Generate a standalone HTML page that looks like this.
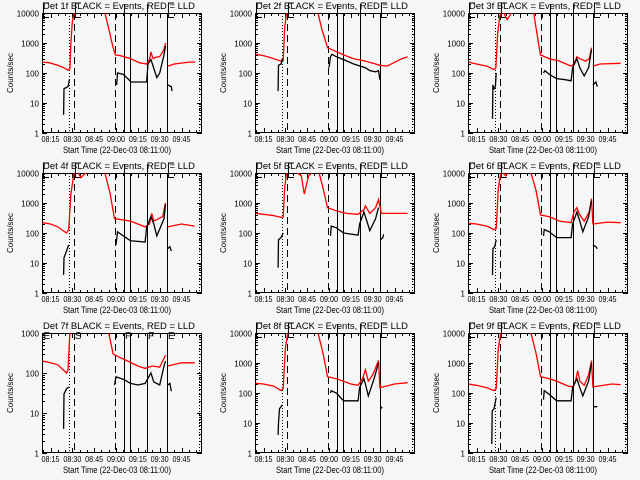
<!DOCTYPE html>
<html><head><meta charset="utf-8"><style>
html,body{margin:0;padding:0;background:#f6f6f6;}
svg{display:block;font-family:"Liberation Sans",sans-serif;}
</style></head><body>
<svg id="chart" width="640" height="480" viewBox="0 0 640 480" xmlns="http://www.w3.org/2000/svg">
<rect x="0" y="0" width="640" height="480" fill="#f6f6f6"/>
</svg>
<script>
// time in minutes since 08:00, values in counts/sec
const detNames = ["1f","2f","3f","4f","5f","6f","7f","8f","9f"];
const xTickMin = [15,30,45,60,75,90,105];
const xTickLabels = ["08:15","08:30","08:45","09:00","09:15","09:30","09:45"];
const dottedMin = [28.05,117];
const dashedMin = [31.1,59.3];
const solidMin = [65.5,69.6,81.3,95];

const p1RedT=[9.5,14,20,24,27,28.3,29,30,31,33,40,52,55,58,59.5,63,70,76,81,83,84,85.5,87,90,93,94,94.5,95.5,100,110,114.5];
const p1RedV=[230,220,180,150,125,140,1000,5000,9000,12000,12000,12000,3000,700,400,380,300,220,200,280,500,300,330,350,600,1000,null,170,200,230,230];
const p1BlkT=[24,24.3,27,28,28.5,60.5,61,65,69.6,70,81,82,84,85,88,90,93,94,94.5,95.5,98,98.5];
const p1BlkV=[4,30,35,60,null,40,100,90,55,50,50,200,280,200,70,100,400,800,null,40,35,25];

const p2RedT=[9.5,15,20,27,28.5,29.5,31,40,52,55,58,59,62,70,77,85,92,95,100,110,114];
const p2RedV=[420,380,320,250,260,3000,12000,12000,12000,3000,1000,700,600,400,300,250,200,180,170,300,350];
const p2BlkT=[25,25.3,27,28,28.5,60,61,62,65,70,77,85,88,92,94,95];
const p2BlkV=[25,180,200,300,null,150,350,420,350,280,200,150,120,110,120,60];

const p3RedT=[9.5,15,22,27,28.3,29.5,31,33,36,39,45,54,57,59,65,72,80,82,84,86,90,92.5,94,94.5,95,100,114];
const p3RedV=[230,200,170,130,150,2000,8000,12000,6000,10000,12000,12000,1500,400,300,250,170,200,350,300,250,300,700,null,170,200,210];
const p3BlkT=[26,26.3,27,28,28.5,29,61,62,65,70,76,80,81,84,86,89,92,94,94.5,95,97,98];
const p3BlkV=[3,40,30,35,100,null,100,120,90,65,60,55,150,300,150,80,150,600,null,40,50,35];

const p4RedT=[9.5,15,20,26,27.5,29,31,33,36,39,45,52,56,59,70,80,83,84.5,86,92,94,94.5,95.5,105,114];
const p4RedV=[220,200,160,100,130,2000,9000,12000,7000,10000,12000,12000,2000,300,250,160,200,450,250,350,1000,null,160,200,170];
const p4BlkT=[24,24.3,26,27.5,28,60,61,65,70,80,81,84,86,88,93,94,94.5,95.5,97,98];
const p4BlkV=[4,15,25,40,null,40,110,80,55,50,150,350,200,80,300,900,null,30,35,25];

const p5RedT=[9.5,15,22,27,28.5,29.5,31,37,41,43,46,49,53,56,59,65,72,80,84,85,88,92,94,96,105,114];
const p5RedV=[450,420,380,330,340,3000,12000,11000,8000,2000,8000,11000,11000,3000,700,550,450,420,600,800,450,700,1300,450,450,450];
const p5BlkT=[25,25.3,27,28.5,29,61,61.5,65,70,80,81,84,85.5,88,92,94,94.5,95.5,97,97.5];
const p5BlkV=[7,60,70,100,null,80,170,150,100,85,200,500,300,120,300,700,null,60,70,90];

const p6RedT=[9.5,15,22,27,28.5,30,32,35,38,45,52,56,59,65,72,80,82,84,86,89,92.5,94,95,105,114];
const p6RedV=[210,200,170,130,140,3000,12000,8000,12000,12000,12000,2500,400,350,250,220,500,700,400,250,500,1400,200,230,220];
const p6BlkT=[26,26.3,27.5,28.5,29,61,61.5,65,70,80,81,84,86,88,92,94,94.5,95,97,98];
const p6BlkV=[4,30,35,60,null,80,130,110,70,70,200,500,250,110,350,1200,null,40,35,30];

const p7RedT=[9.5,15,20,26,27,28.5,29,53,54,58,62,68,75,80,85,90,94,94.5,95.5,105,114];
const p7RedV=[200,180,160,100,120,1500,null,null,1500,300,250,200,150,130,150,140,280,null,150,180,180];
const p7BlkT=[24,24.3,26,27.5,28,59,60,65,70,75,80,84,86,90,93,94,94.5,95.5,97,98];
const p7BlkV=[4,30,40,45,null,50,80,70,55,50,55,100,60,50,150,200,null,50,55,35];

const p8RedT=[9.5,15,22,27,28.5,30,32,40,52,56,59,65,75,80,83,85,87,90,94,95,105,114];
const p8RedV=[210,200,170,120,140,3000,12000,12000,12000,2000,350,300,200,180,300,600,250,400,1200,150,200,220];
const p8BlkT=[25,25.3,26,28,28.5,61,61.5,65,70,80,81,84,85,87,91,94,94.5,95.5,96.5];
const p8BlkV=[4,10,30,40,null,100,120,100,55,55,150,300,200,80,300,1000,null,30,35];

const p9RedT=[9.5,15,22,27,28.5,30,32,40,52,56,59,65,70,78,81,83,84.5,86,89,92,94,95,108,114];
const p9RedV=[200,180,150,120,140,3000,12000,12000,12000,2000,350,300,250,170,160,250,550,250,180,400,1200,160,200,190];
const p9BlkT=[25.5,25.8,27,28.5,29,61,61.5,65,70,80,81,84,86,88,92,94,94.5,95.5,98];
const p9BlkV=[2,25,30,70,null,60,120,90,55,55,150,300,150,80,250,1000,null,35,35];

const redT=[p1RedT,p2RedT,p3RedT,p4RedT,p5RedT,p6RedT,p7RedT,p8RedT,p9RedT];
const redV=[p1RedV,p2RedV,p3RedV,p4RedV,p5RedV,p6RedV,p7RedV,p8RedV,p9RedV];
const blkT=[p1BlkT,p2BlkT,p3BlkT,p4BlkT,p5BlkT,p6BlkT,p7BlkT,p8BlkT,p9BlkT];
const blkV=[p1BlkV,p2BlkV,p3BlkV,p4BlkV,p5BlkV,p6BlkV,p7BlkV,p8BlkV,p9BlkV];
const decadesPerPanel=[4,4,4,4,4,4,3,4,4];

const NS="http://www.w3.org/2000/svg";
const svg=document.getElementById('chart');
const L=42,R=202,T=13,B=133;
function xs(m){return 50.5+(m-15)*1.4556;}
function mk(tag,attrs,parent){const e=document.createElementNS(NS,tag);for(const k in attrs)e.setAttribute(k,attrs[k]);parent.appendChild(e);return e;}

for(let p=0;p<9;p++){
  const ox=(p%3)*213, oy=Math.floor(p/3)*160;
  const dec=decadesPerPanel[p];
  const ys=v=>B-Math.log10(v)*(120/dec);
  const g=mk('g',{transform:`translate(${ox},${oy})`},svg);
  
  
  const cp=mk('clipPath',{id:'cp'+p},g);
  mk('rect',{x:L,y:T,width:R-L,height:B-T},cp);
  // title
  const tt=mk('text',{x:119,y:9,'font-size':'9.5','text-anchor':'middle',textLength:152,lengthAdjust:'spacingAndGlyphs',fill:'#000'},g);
  tt.textContent='Det '+detNames[p]+' BLACK = Events, RED = LLD';
  
  
  // y axis title
  const yt=mk('text',{transform:'translate(13,73) rotate(-90)','font-size':'8','text-anchor':'middle',textLength:40,lengthAdjust:'spacingAndGlyphs'},g);
  yt.textContent='Counts/sec';
  
  
  // x title
  const xt=mk('text',{x:117,y:153,'font-size':'9','text-anchor':'middle',textLength:108,lengthAdjust:'spacingAndGlyphs'},g);
  xt.textContent='Start Time (22-Dec-03 08:11:00)';
  
  
  // frame
  const fr=mk('rect',{x:L+0.5,y:T+0.5,width:R-L-1,height:B-T-1,fill:'none',stroke:'#000','stroke-width':1},g);
  
  
  // y ticks
  for(let d=0;d<=dec;d++){
    const y=Math.round(ys(Math.pow(10,d)))+0.5;
    mk('line',{x1:L,x2:L+5,y1:y,y2:y,stroke:'#000'},g);
    mk('line',{x1:R-5,x2:R,y1:y,y2:y,stroke:'#000'},g);
    const lb=mk('text',{x:39,y:y+3,'font-size':'8','text-anchor':'end'},g);
    lb.textContent=String(Math.pow(10,d));
    
    
    if(d<dec){for(let k=2;k<10;k++){const yy=Math.round(ys(k*Math.pow(10,d)))+0.5;
      mk('line',{x1:L,x2:L+3,y1:yy,y2:yy,stroke:'#000'},g);
      mk('line',{x1:R-3,x2:R,y1:yy,y2:yy,stroke:'#000'},g);}}
  }
  // x ticks
  for(let m=10;m<=115;m+=5){
    const x=Math.round(xs(m))+0.5, major=(m%15===0);
    const len=major?5:3;
    mk('line',{x1:x,x2:x,y1:B-len,y2:B,stroke:'#000'},g);
    mk('line',{x1:x,x2:x,y1:T,y2:T+len,stroke:'#000'},g);
  }
  xTickMin.forEach((m,i)=>{
    const lb=mk('text',{x:xs(m),y:142,'font-size':'8','text-anchor':'middle',textLength:18,lengthAdjust:'spacingAndGlyphs'},g);
    lb.textContent=xTickLabels[i];
    
    
  });
  // event lines
  dottedMin.forEach(m=>{const l=mk('line',{x1:Math.round(xs(m))+0.5,x2:Math.round(xs(m))+0.5,y1:T,y2:B,stroke:'#000','stroke-dasharray':'1,2'},g);
    
    });
  dashedMin.forEach(m=>{const l=mk('line',{x1:Math.round(xs(m))+0.5,x2:Math.round(xs(m))+0.5,y1:T,y2:B,stroke:'#000','stroke-dasharray':'7,4'},g);
    
    });
  solidMin.forEach(m=>{const l=mk('line',{x1:Math.round(xs(m))+0.5,x2:Math.round(xs(m))+0.5,y1:T,y2:B,stroke:'#000'},g);
    
    });
  // top markers
  if(p===6){
    const letters=['E','S','F','F','E'], lm=[9.5,31.1,65.5,81.3,95];
    letters.forEach((c,i)=>{const t=mk('text',{x:xs(lm[i])+1,y:19,'font-size':'10'},g);
      t.textContent=c;
      
      });
  } else {
    [[L+1,L+7],[xs(31.1)+1,xs(31.1)+7],[xs(95)+1,xs(95)+7]].forEach(([a,b])=>{
      mk('path',{d:`M${a+0.5},${T}V${T+5}M${a},${T+4.5}H${b}`,stroke:'#000',fill:'none'},g);
      mk('path',{d:`M${a+0.5},${T}V3H${b}`,stroke:'#000',fill:'none'},g);
    });
    [65.5,81.3].forEach(m=>{const x=Math.round(xs(m))+0.5;mk('line',{x1:x,x2:x,y1:4,y2:T+5,stroke:'#000'},g);});
  }
  // series
  function pathFor(tA,vA){let d='',pen=false;
    for(let i=0;i<tA.length;i++){const v=vA[i];
      if(v===null){pen=false;continue;}
      const x=xs(tA[i]).toFixed(1), y=ys(v).toFixed(1);
      d+=(pen?'L':'M')+x+','+y;pen=true;}
    return d;}
  const gs=mk('g',{'clip-path':`url(#cp${p})`},g);
  const rp=mk('path',{d:pathFor(redT[p],redV[p]),stroke:'#ff0000','stroke-width':1.3,fill:'none'},gs);
  
  
  const bp=mk('path',{d:pathFor(blkT[p],blkV[p]),stroke:'#000','stroke-width':1.3,fill:'none'},gs);
  
  
}
</script>
</body></html>
